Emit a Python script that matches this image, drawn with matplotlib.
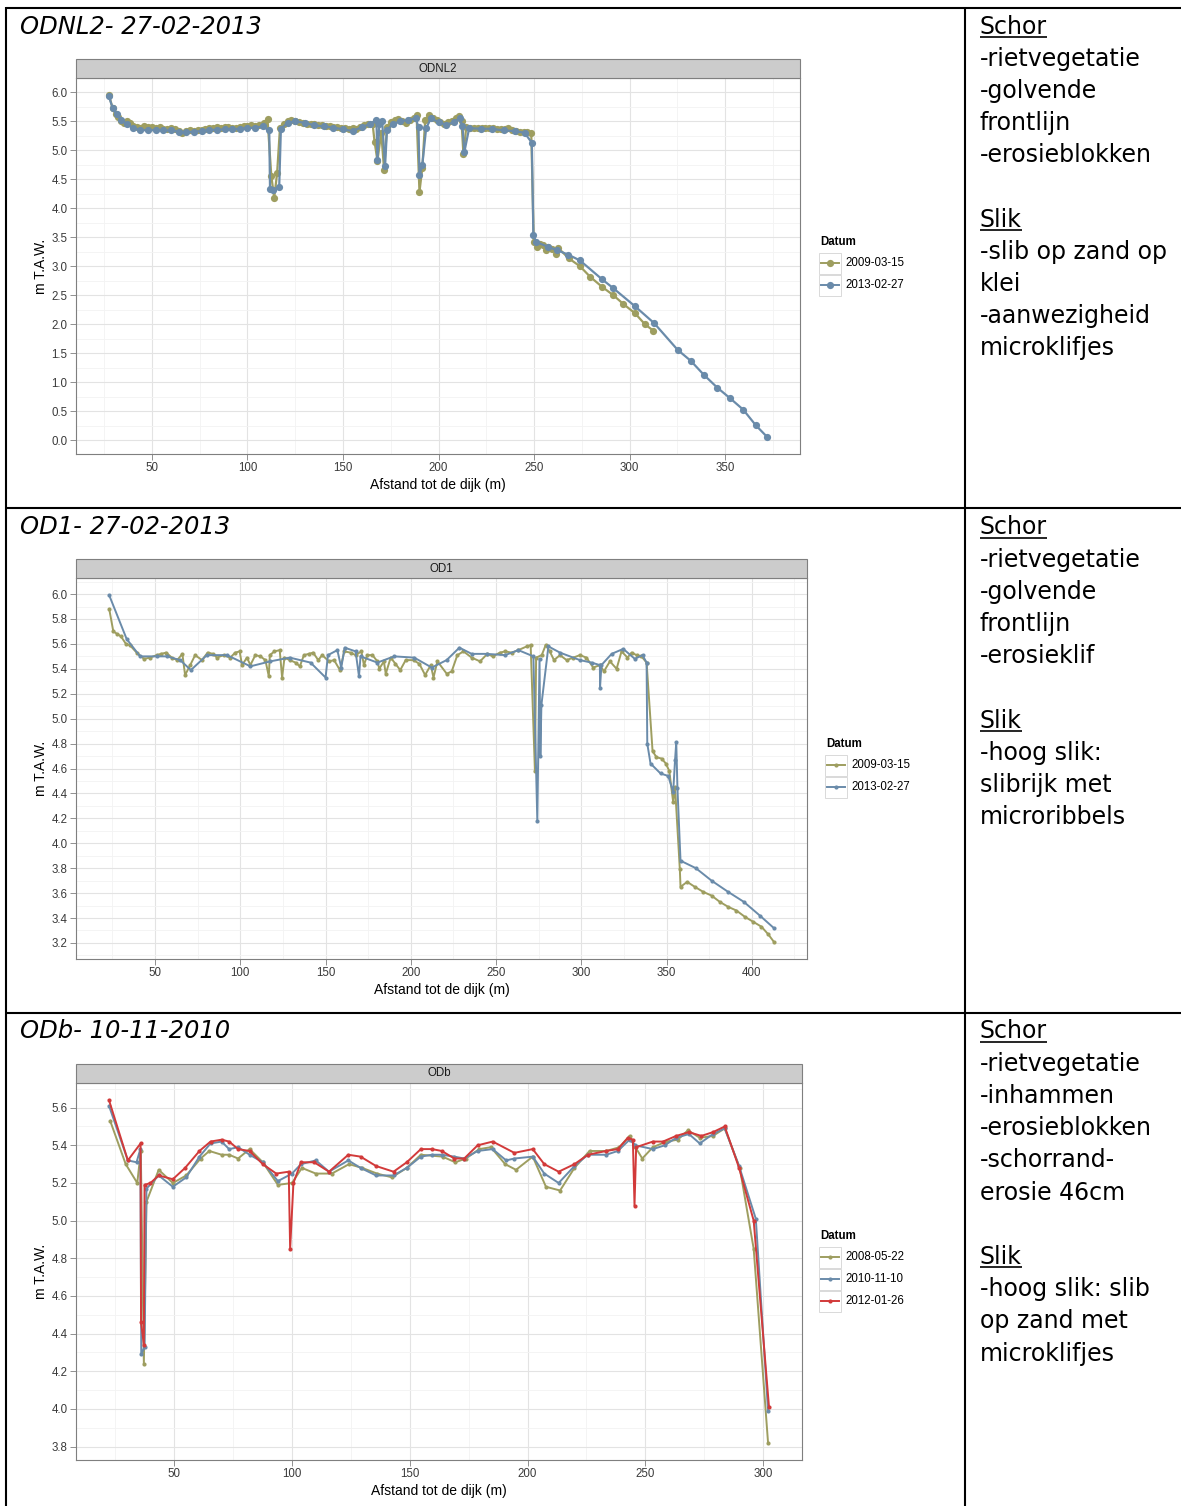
import matplotlib
matplotlib.use("Agg")
import matplotlib.pyplot as plt
from matplotlib.lines import Line2D
from matplotlib.patches import Rectangle
from matplotlib.ticker import MultipleLocator, FormatStrFormatter

W, H, DPI = 1181, 1506, 100

# ---------------------------------------------------------------- data
# Profile ODNL2
odnl2_dates = ["2009-03-15", "2013-02-27"]
odnl2_x_2009 = [27.5, 29.5, 31.0, 32.5, 34.0, 35.5, 37.0, 38.5, 40.0, 42.0,
                44.0, 46.0, 48.0, 50.0, 52.0, 54.0, 56.0, 58.0, 60.0, 62.0,
                64.0, 66.0, 68.0, 70.0, 72.0, 74.0, 76.0, 78.0, 80.0, 82.0,
                84.0, 86.0, 88.0, 90.0, 92.0, 94.0, 96.0, 98.0, 100.0, 102.0,
                104.0, 106.0, 108.5, 110.5, 112.5, 114.0, 115.5, 117.0, 119.0, 121.0,
                123.0, 125.0, 127.0, 129.0, 131.0, 133.0, 135.0, 137.0, 139.0, 141.0,
                143.0, 145.0, 147.0, 149.0, 151.0, 153.0, 155.0, 157.0, 159.0, 161.0,
                163.0, 165.5, 166.5, 168.0, 170.0, 171.5, 173.0, 175.0, 177.0, 179.0,
                181.0, 183.0, 185.0, 187.0, 188.5, 190.0, 191.5, 193.0, 195.0, 197.0,
                199.0, 201.0, 203.0, 205.0, 207.0, 209.0, 210.5, 212.0, 213.0, 214.5,
                216.5, 218.5, 220.5, 222.5, 224.5, 226.5, 228.5, 230.5, 232.5, 234.5,
                236.5, 238.5, 240.5, 242.5, 244.5, 246.5, 248.5, 249.8, 251.4, 253.0,
                254.5, 256.0, 257.5, 259.5, 261.5, 262.5, 268.0, 274.0, 279.3, 285.4,
                291.5, 296.7, 302.8, 308.0, 312.4]
odnl2_y_2009 = [5.95, 5.72, 5.62, 5.58, 5.50, 5.47, 5.50, 5.47, 5.42, 5.40,
                5.39, 5.41, 5.40, 5.40, 5.38, 5.40, 5.37, 5.36, 5.38, 5.36,
                5.33, 5.30, 5.33, 5.34, 5.33, 5.35, 5.34, 5.36, 5.38, 5.38,
                5.40, 5.39, 5.40, 5.40, 5.39, 5.38, 5.40, 5.41, 5.42, 5.43,
                5.41, 5.44, 5.47, 5.53, 4.55, 4.18, 4.60, 5.38, 5.46, 5.50,
                5.52, 5.51, 5.49, 5.47, 5.46, 5.45, 5.45, 5.43, 5.43, 5.41,
                5.42, 5.40, 5.40, 5.39, 5.38, 5.37, 5.38, 5.37, 5.40, 5.43,
                5.46, 5.45, 5.15, 4.82, 5.30, 4.66, 5.40, 5.48, 5.52, 5.54,
                5.50, 5.47, 5.52, 5.55, 5.60, 4.28, 4.70, 5.52, 5.60, 5.55,
                5.52, 5.48, 5.46, 5.48, 5.51, 5.55, 5.59, 5.50, 4.93, 5.40,
                5.38, 5.39, 5.38, 5.39, 5.38, 5.39, 5.38, 5.36, 5.37, 5.36,
                5.39, 5.34, 5.33, 5.32, 5.31, 5.32, 5.30, 3.42, 3.33, 3.38,
                3.36, 3.28, 3.34, 3.30, 3.22, 3.32, 3.14, 3.00, 2.82, 2.65,
                2.50, 2.35, 2.19, 2.00, 1.89]
odnl2_x_2013 = [27.5, 29.5, 31.5, 34.0, 37.0, 40.0, 44.0, 48.0, 52.0, 56.0,
                60.0, 64.0, 68.0, 72.0, 76.0, 80.0, 84.0, 88.0, 92.0, 96.0,
                100.0, 104.0, 108.0, 111.4, 111.8, 113.5, 116.6, 117.5, 121.0, 125.0,
                130.0, 135.0, 140.0, 145.0, 150.0, 155.0, 160.0, 164.0, 167.5, 168.0,
                169.0, 170.5, 172.0, 173.0, 176.0, 180.0, 184.0, 188.0, 189.5, 190.0,
                191.5, 193.5, 196.0, 200.0, 204.0, 208.0, 211.0, 212.5, 213.5, 216.0,
                222.0, 228.0, 234.0, 240.0, 245.0, 248.8, 249.6, 251.0, 257.0, 261.8,
                267.9, 274.0, 285.4, 291.5, 302.8, 312.8, 325.1, 332.0, 338.8, 345.8,
                352.4, 359.4, 366.0, 371.9]
odnl2_y_2013 = [5.93, 5.72, 5.62, 5.52, 5.45, 5.38, 5.35, 5.34, 5.35, 5.34,
                5.34, 5.32, 5.31, 5.32, 5.33, 5.35, 5.35, 5.36, 5.36, 5.37,
                5.38, 5.39, 5.41, 5.34, 4.33, 4.32, 4.36, 5.37, 5.47, 5.50,
                5.47, 5.43, 5.41, 5.39, 5.36, 5.33, 5.40, 5.45, 5.52, 4.83,
                5.45, 5.50, 4.72, 5.35, 5.45, 5.50, 5.52, 5.55, 5.40, 4.57,
                4.75, 5.38, 5.55, 5.48, 5.44, 5.48, 5.55, 5.42, 4.97, 5.38,
                5.37, 5.37, 5.34, 5.33, 5.30, 5.13, 3.54, 3.42, 3.34, 3.28,
                3.20, 3.10, 2.78, 2.62, 2.31, 2.02, 1.56, 1.37, 1.13, 0.91,
                0.73, 0.53, 0.26, 0.06]

# Profile OD1
od1_dates = ["2009-03-15", "2013-02-27"]
od1_x_2009 = [23.1, 25.5, 27.8, 30.0, 32.9, 35.2, 39.2, 43.5, 47.0, 51.0,
              53.5, 56.5, 59.8, 63.0, 66.0, 67.6, 70.6, 73.5, 77.5, 80.8,
              84.0, 86.3, 90.2, 94.1, 97.0, 99.6, 101.0, 103.9, 105.9, 108.8,
              111.8, 114.7, 116.7, 117.3, 120.0, 123.1, 124.5, 125.9, 129.0, 132.4,
              134.9, 137.3, 140.2, 142.7, 145.7, 148.0, 152.0, 155.0, 158.4, 161.0,
              164.7, 167.6, 171.0, 172.5, 174.5, 177.5, 180.4, 181.5, 184.2, 185.3,
              188.2, 191.0, 193.8, 197.0, 201.6, 205.0, 208.4, 211.7, 213.3, 215.6,
              221.1, 224.0, 227.3, 230.9, 235.7, 240.6, 244.9, 248.0, 252.3, 255.3,
              259.2, 263.1, 268.0, 270.3, 272.8, 273.5, 276.8, 279.1, 281.5, 284.0,
              287.5, 291.4, 295.3, 299.2, 303.0, 307.0, 310.9, 313.3, 316.8, 320.7,
              323.6, 327.1, 329.5, 332.4, 335.3, 338.3, 341.8, 344.1, 347.1, 349.6,
              351.6, 353.9, 355.0, 357.8, 358.2, 362.1, 366.6, 371.5, 376.4, 381.2,
              386.1, 391.0, 395.9, 400.8, 405.7, 409.6, 412.9]
od1_y_2009 = [5.88, 5.70, 5.68, 5.66, 5.60, 5.59, 5.53, 5.48, 5.49, 5.51,
              5.52, 5.53, 5.49, 5.47, 5.52, 5.35, 5.43, 5.51, 5.47, 5.53,
              5.52, 5.49, 5.51, 5.49, 5.53, 5.54, 5.43, 5.49, 5.43, 5.51,
              5.50, 5.47, 5.34, 5.51, 5.54, 5.55, 5.33, 5.49, 5.47, 5.45,
              5.42, 5.51, 5.52, 5.53, 5.47, 5.51, 5.46, 5.47, 5.39, 5.54,
              5.53, 5.51, 5.54, 5.43, 5.51, 5.51, 5.46, 5.40, 5.46, 5.36,
              5.49, 5.44, 5.39, 5.47, 5.47, 5.44, 5.35, 5.43, 5.33, 5.46,
              5.36, 5.38, 5.51, 5.54, 5.49, 5.46, 5.52, 5.50, 5.53, 5.54,
              5.53, 5.55, 5.58, 5.59, 4.58, 5.49, 5.51, 5.59, 5.54, 5.47,
              5.51, 5.47, 5.49, 5.51, 5.49, 5.41, 5.43, 5.38, 5.46, 5.40,
              5.54, 5.49, 5.53, 5.51, 5.50, 5.45, 4.74, 4.69, 4.68, 4.64,
              4.58, 4.33, 4.45, 3.79, 3.65, 3.69, 3.65, 3.61, 3.58, 3.53,
              3.49, 3.46, 3.41, 3.37, 3.33, 3.27, 3.21]
od1_x_2013 = [23.1, 33.3, 41.2, 51.0, 56.9, 64.7, 71.0, 80.4, 92.2, 105.9,
              117.6, 129.0, 141.2, 150.0, 151.4, 156.9, 159.2, 161.2, 167.6, 169.6,
              170.5, 180.4, 190.2, 202.0, 212.3, 221.0, 228.5, 235.7, 244.5, 255.3,
              263.1, 271.9, 274.2, 275.5, 276.0, 276.6, 280.7, 287.5, 299.2, 306.0,
              310.9, 311.0, 311.8, 317.8, 324.6, 331.4, 335.9, 338.3, 338.7, 340.6,
              346.5, 351.0, 353.9, 355.0, 355.7, 356.4, 358.2, 367.2, 376.4, 386.1,
              395.3, 404.7, 412.9]
od1_y_2013 = [5.99, 5.64, 5.50, 5.50, 5.50, 5.47, 5.39, 5.51, 5.51, 5.42,
              5.46, 5.49, 5.45, 5.33, 5.51, 5.55, 5.41, 5.57, 5.54, 5.34,
              5.50, 5.45, 5.50, 5.49, 5.41, 5.47, 5.57, 5.52, 5.52, 5.51,
              5.55, 5.50, 4.18, 5.48, 4.70, 5.11, 5.58, 5.53, 5.47, 5.45,
              5.43, 5.25, 5.43, 5.52, 5.56, 5.48, 5.51, 5.45, 4.80, 4.64,
              4.56, 4.54, 4.41, 4.67, 4.81, 4.44, 3.86, 3.80, 3.70, 3.61,
              3.53, 3.42, 3.32]

# Profile ODb
odb_dates = ["2008-05-22", "2010-11-10", "2012-01-26"]
odb_x_2008 = [22.8, 29.4, 34.3, 35.8, 37.1, 38.2, 43.4, 49.4, 55.1, 61.2,
              64.9, 70.1, 73.3, 77.1, 82.0, 87.6, 94.0, 100.0, 104.2, 110.1,
              116.9, 124.2, 129.8, 136.1, 142.4, 148.7, 154.7, 163.9, 169.3, 173.8,
              179.5, 184.4, 190.5, 195.1, 202.2, 207.8, 213.8, 219.9, 226.3, 233.4,
              239.0, 243.3, 245.8, 248.7, 253.2, 258.9, 263.8, 268.1, 273.1, 278.7,
              283.7, 290.1, 296.0, 302.1]
odb_y_2008 = [5.53, 5.30, 5.20, 5.37, 4.24, 5.10, 5.27, 5.20, 5.24, 5.33,
              5.37, 5.35, 5.35, 5.33, 5.38, 5.31, 5.19, 5.20, 5.28, 5.25,
              5.25, 5.30, 5.28, 5.25, 5.23, 5.28, 5.35, 5.34, 5.31, 5.33,
              5.38, 5.39, 5.30, 5.27, 5.34, 5.18, 5.16, 5.28, 5.37, 5.37,
              5.39, 5.45, 5.39, 5.33, 5.39, 5.42, 5.43, 5.48, 5.44, 5.45,
              5.49, 5.28, 4.85, 3.82]
odb_x_2010 = [22.3, 30.3, 34.0, 35.6, 36.0, 37.4, 38.2, 43.4, 49.4, 55.1,
              60.7, 65.4, 70.1, 73.3, 77.1, 82.0, 87.6, 94.0, 100.0, 103.8,
              110.1, 115.7, 123.9, 129.1, 135.7, 143.1, 148.7, 154.7, 159.4, 163.6,
              168.9, 173.1, 178.8, 185.2, 190.9, 194.4, 202.2, 207.1, 213.2, 219.9,
              225.6, 233.4, 238.3, 243.3, 245.8, 253.2, 258.2, 263.1, 268.5, 273.1,
              278.7, 283.7, 289.8, 296.9, 302.1]
odb_y_2010 = [5.61, 5.32, 5.31, 5.38, 4.29, 4.33, 5.17, 5.24, 5.18, 5.23,
              5.34, 5.41, 5.42, 5.38, 5.39, 5.35, 5.31, 5.21, 5.25, 5.30,
              5.32, 5.26, 5.32, 5.28, 5.24, 5.24, 5.28, 5.34, 5.35, 5.35,
              5.34, 5.33, 5.37, 5.38, 5.32, 5.33, 5.34, 5.25, 5.20, 5.29,
              5.35, 5.35, 5.37, 5.43, 5.40, 5.38, 5.40, 5.44, 5.46, 5.41,
              5.46, 5.49, 5.29, 5.01, 3.99]
odb_x_2012 = [22.3, 30.3, 35.7, 35.9, 37.1, 37.4, 39.9, 43.4, 49.4, 54.6,
              60.7, 65.4, 70.1, 73.3, 77.1, 82.0, 87.6, 93.3, 98.6, 99.2,
              100.6, 103.8, 109.4, 115.7, 123.9, 129.1, 135.7, 143.1, 148.7, 154.7,
              159.4, 163.6, 168.9, 173.1, 178.8, 185.2, 194.4, 202.2, 207.1, 213.2,
              219.9, 225.6, 233.4, 238.3, 242.6, 244.7, 245.4, 246.1, 253.2, 257.5,
              263.1, 268.5, 273.8, 278.7, 283.7, 289.8, 296.0, 302.5]
odb_y_2012 = [5.64, 5.32, 5.41, 4.46, 4.34, 5.19, 5.20, 5.24, 5.22, 5.28,
              5.37, 5.42, 5.43, 5.42, 5.38, 5.37, 5.30, 5.25, 5.26, 4.85,
              5.20, 5.31, 5.31, 5.26, 5.35, 5.34, 5.29, 5.26, 5.31, 5.38,
              5.38, 5.37, 5.33, 5.33, 5.40, 5.42, 5.36, 5.38, 5.30, 5.26,
              5.30, 5.35, 5.37, 5.38, 5.44, 5.43, 5.08, 5.39, 5.42, 5.42,
              5.45, 5.47, 5.45, 5.47, 5.50, 5.28, 5.00, 4.01]

# Row titles and site descriptions
row_titles = ["ODNL2- 27-02-2013", "OD1- 27-02-2013", "ODb- 10-11-2010"]
row_notes = [
    ["Schor", "-rietvegetatie", "-golvende", "frontlijn", "-erosieblokken", "",
     "Slik", "-slib op zand op", "klei", "-aanwezigheid", "microklifjes"],
    ["Schor", "-rietvegetatie", "-golvende", "frontlijn", "-erosieklif", "",
     "Slik", "-hoog slik:", "slibrijk met", "microribbels"],
    ["Schor", "-rietvegetatie", "-inhammen", "-erosieblokken", "-schorrand-",
     "erosie 46cm", "", "Slik", "-hoog slik: slib", "op zand met", "microklifjes"],
]
underlined = {"Schor", "Slik"}

x_title = "Afstand tot de dijk (m)"
y_title = "m T.A.W."
legend_title = "Datum"

# ---------------------------------------------------------------- style
OLIVE = "#9E9E60"
BLUE = "#6A8BAA"
RED = "#D23A3A"
GRID_MAJ = "#E3E3E3"
GRID_MIN = "#F3F3F3"
FRAME = "#7F7F7F"
TICKTXT = "#3A3A3A"
SANS = ["Liberation Sans", "DejaVu Sans"]
SMALL = 8.3

fig = plt.figure(figsize=(W / DPI, H / DPI), dpi=DPI)
fig.patch.set_facecolor("white")


def fx(x):
    return x / W


def fy(y):
    return 1 - y / H


def fig_line(x0, y0, x1, y1, lw=1.5, color="black"):
    fig.add_artist(Line2D([fx(x0), fx(x1)], [fy(y0), fy(y1)],
                          transform=fig.transFigure, color=color, lw=lw,
                          solid_capstyle="butt"))


def profile_panel(box, strip, series, ymajor, xmajor=50, ms=3.0, lw=1.4):
    left, top, right, bottom = box
    wpx, hpx = right - left, bottom - top
    ax = fig.add_axes([fx(left), fy(bottom), wpx / W, hpx / H])
    for xs, ys, color in series:
        assert len(xs) == len(ys)
        ax.plot(xs, ys, "-o", color=color, lw=lw, ms=ms, mfc=color, mec=color,
                mew=0, zorder=3)
    ax.margins(x=0.05, y=0.05)
    ax.xaxis.set_major_locator(MultipleLocator(xmajor))
    ax.xaxis.set_minor_locator(MultipleLocator(xmajor / 2))
    ax.yaxis.set_major_locator(MultipleLocator(ymajor))
    ax.yaxis.set_minor_locator(MultipleLocator(ymajor / 2))
    ax.yaxis.set_major_formatter(FormatStrFormatter("%.1f"))
    ax.grid(which="major", color=GRID_MAJ, lw=0.8, zorder=0)
    ax.grid(which="minor", color=GRID_MIN, lw=0.6, zorder=0)
    ax.set_axisbelow(True)
    for sp in ax.spines.values():
        sp.set_color(FRAME)
        sp.set_linewidth(0.8)
    ax.tick_params(which="major", length=4, width=0.6, color=FRAME,
                   labelsize=SMALL, labelcolor=TICKTXT, pad=2)
    ax.tick_params(which="minor", length=0)
    for lab in ax.get_xticklabels() + ax.get_yticklabels():
        lab.set_family(SANS)
    # facet strip
    sh = 19 / hpx
    ax.add_patch(Rectangle((0, 1), 1, sh, transform=ax.transAxes,
                           facecolor="#CCCCCC", edgecolor=FRAME, lw=0.8,
                           clip_on=False, zorder=5))
    ax.text(0.5, 1 + sh / 2, strip, transform=ax.transAxes, ha="center",
            va="center", fontsize=SMALL, family=SANS, color="#1A1A1A", zorder=6)
    # axis titles
    fig.text(fx((left + right) / 2), fy(bottom + 31), x_title, ha="center",
             va="center", fontsize=10, family=SANS)
    fig.text(fx(41), fy((top + bottom) / 2), y_title, ha="center",
             va="center", rotation=90, fontsize=10, family=SANS)
    return ax


def legend(x, y_title_c, labels, colors, ms=3.0, step=22):
    fig.text(fx(x), fy(y_title_c), legend_title, ha="left", va="center",
             fontsize=SMALL, fontweight="bold", family=SANS)
    for i, (lab, col) in enumerate(zip(labels, colors)):
        yc = y_title_c + 21 + i * step
        fig.add_artist(Rectangle((fx(x - 1), fy(yc + 10.5)), 22 / W, 21 / H,
                                 transform=fig.transFigure, facecolor="white",
                                 edgecolor="#D9D9D9", lw=0.7))
        fig.add_artist(Line2D([fx(x + 1), fx(x + 19)], [fy(yc), fy(yc)],
                              transform=fig.transFigure, color=col, lw=1.4))
        fig.add_artist(Line2D([fx(x + 10)], [fy(yc)], transform=fig.transFigure,
                              marker="o", ms=ms, color=col, mew=0))
        fig.text(fx(x + 25), fy(yc), lab, ha="left", va="center",
                 fontsize=SMALL, family=SANS)


# ---------------------------------------------------------------- panels
profile_panel((76, 78, 800, 454), "ODNL2",
              [(odnl2_x_2009, odnl2_y_2009, OLIVE),
               (odnl2_x_2013, odnl2_y_2013, BLUE)],
              ymajor=0.5, ms=5.2, lw=1.6)
legend(820, 242, odnl2_dates, [OLIVE, BLUE], ms=5.2)

profile_panel((76, 578, 807, 959), "OD1",
              [(od1_x_2009, od1_y_2009, OLIVE),
               (od1_x_2013, od1_y_2013, BLUE)],
              ymajor=0.2, ms=3.0, lw=1.4)
legend(826, 744, od1_dates, [OLIVE, BLUE], ms=3.0)

profile_panel((76, 1083, 802, 1460), "ODb",
              [(odb_x_2008, odb_y_2008, OLIVE),
               (odb_x_2010, odb_y_2010, BLUE),
               (odb_x_2012, odb_y_2012, RED)],
              ymajor=0.2, ms=3.0, lw=1.4)
legend(820, 1236, odb_dates, [OLIVE, BLUE, RED], ms=3.0)

# ---------------------------------------------------------------- table frame
fig_line(6, 8, 1181, 8)
fig_line(6, 7, 6, 1506)
fig_line(965, 8, 965, 1506)
fig_line(6, 508, 1181, 508)
fig_line(6, 1013, 1181, 1013)

# ---------------------------------------------------------------- text cells
row_tops = [25, 526, 1030]
STEP = 32.2
fig.canvas.draw()
renderer = fig.canvas.get_renderer()
for title, notes, yc in zip(row_titles, row_notes, row_tops):
    fig.text(fx(20), fy(yc + 8.5), title, ha="left", va="baseline",
             fontsize=17.5, style="italic", family="DejaVu Sans")
    for i, line in enumerate(notes):
        if not line:
            continue
        base = yc + 8.5 + i * STEP
        t = fig.text(fx(980), fy(base), line, ha="left", va="baseline",
                     fontsize=17, family="DejaVu Sans")
        if line in underlined:
            bb = t.get_window_extent(renderer)
            fig_line(bb.x0, base + 3, bb.x1, base + 3, lw=1.2)

fig.savefig("out.png", dpi=DPI, facecolor="white")
